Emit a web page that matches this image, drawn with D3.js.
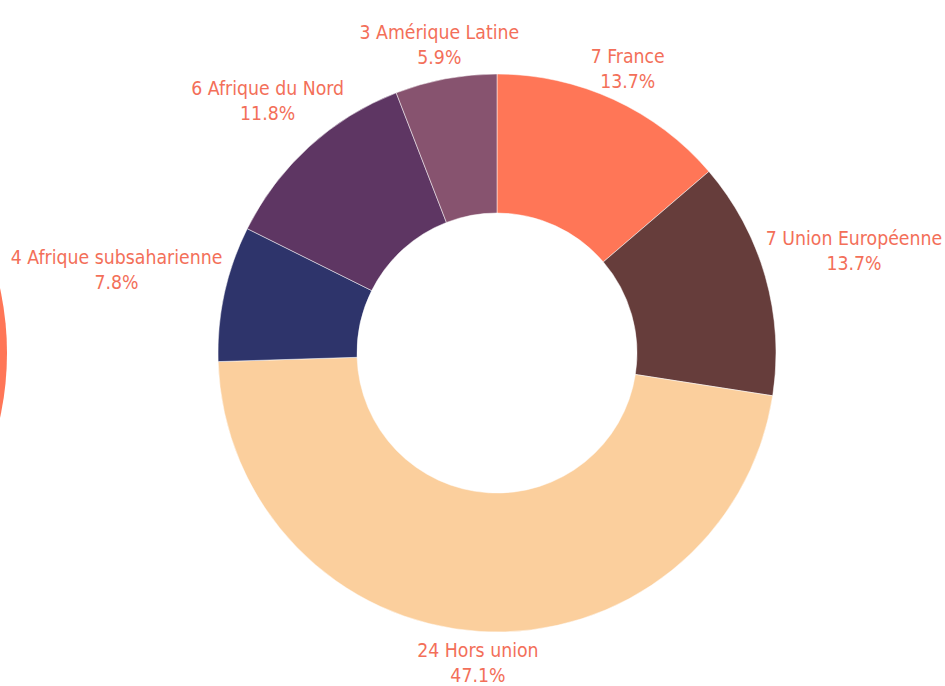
<!DOCTYPE html>
<html>
<head>
<meta charset="utf-8">
<script src="https://cdn.jsdelivr.net/npm/d3@7"></script>
<style>
  body { margin: 0; background: #fff; }
  svg { display: block; }
  .label { font-family: "DejaVu Sans Condensed", "Liberation Sans Narrow", "Roboto", sans-serif; font-stretch: condensed; font-size: 19.3px; fill: #f36f59; }
</style>
</head>
<body>
<svg id="chart" width="945" height="686"></svg>
<script>
const categories = ["France", "Union Européenne", "Hors union", "Afrique subsaharienne", "Afrique du Nord", "Amérique Latine"];
const counts = [7, 7, 24, 4, 6, 3];
const colors = ["#ff7657", "#663d3b", "#fbcf9d", "#2e346b", "#5e3663", "#87536f"];

const svg = d3.select("#chart");
const width = +svg.attr("width");
const height = +svg.attr("height");

const cx = 497, cy = 353;
const outerR = 279, innerR = 140;
const labelGap = 286; // labels sit just outside this circle

// bit of a previous chart peeking in from the left
svg.append("circle")
  .attr("cx", -298)
  .attr("cy", cy)
  .attr("r", 305)
  .attr("fill", "#ff7657");

const data = categories.map((c, i) => ({ name: c, value: counts[i], color: colors[i] }));
const total = d3.sum(counts);

const pie = d3.pie().value(d => d.value).sort(null);
const arc = d3.arc().innerRadius(innerR).outerRadius(outerR);

const g = svg.append("g").attr("transform", `translate(${cx},${cy})`);
const arcs = pie(data);

g.selectAll("path")
  .data(arcs)
  .enter().append("path")
  .attr("d", arc)
  .attr("fill", d => d.data.color)
  .attr("stroke", "#fff")
  .attr("stroke-width", 0.5);

const labels = g.selectAll("text.label")
  .data(arcs)
  .enter().append("text")
  .attr("class", "label")
  .attr("text-anchor", "middle");

labels.append("tspan")
  .attr("x", 0)
  .attr("dy", 0)
  .text(d => `${d.data.value} ${d.data.name}`);

labels.append("tspan")
  .attr("x", 0)
  .attr("dy", 25)
  .text(d => `${(d.data.value / total * 100).toFixed(1)}%`);

// place each label box on the slice's mid ray, pushed out so it clears the ring
labels.attr("transform", function (d) {
  const a = (d.startAngle + d.endAngle) / 2;
  const s = Math.sin(a), c = Math.cos(a);
  const bb = this.getBBox();
  const hw = bb.width / 2, hh = bb.height / 2;
  const r = labelGap + Math.sqrt((s * hw) ** 2 + (c * hh) ** 2);
  const bx = bb.x + hw, by = bb.y + hh;
  return `translate(${r * s - bx},${-r * c - by})`;
});
</script>
</body>
</html>
